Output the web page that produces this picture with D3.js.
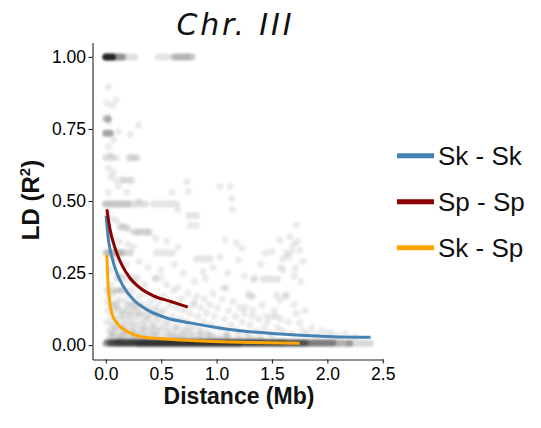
<!DOCTYPE html>
<html>
<head>
<meta charset="utf-8">
<script src="https://cdn.jsdelivr.net/npm/d3@7"></script>
<style>
  body { margin: 0; background: #fff; }
  svg { display: block; font-family: "Liberation Sans", Arial, sans-serif; }
</style>
</head>
<body>
<svg id="chart" width="541" height="428"></svg>
<script>
// ── Data ────────────────────────────────────────────────────────
const xTicks = [0, 0.5, 1.0, 1.5, 2.0, 2.5];
const yTicks = [0, 0.25, 0.5, 0.75, 1.0];
const seriesNames = ['Sk - Sk', 'Sp - Sp', 'Sk - Sp'];

// fitted decay curves: distance (Mb) / LD (R^2)
const skskDist = [0.003, 0.024, 0.054, 0.1, 0.159, 0.25, 0.37, 0.55, 0.76, 0.97, 1.21, 1.45, 1.75, 2.05, 2.39];
const skskLD   = [0.449, 0.365, 0.307, 0.25, 0.203, 0.157, 0.123, 0.094, 0.077, 0.063, 0.05, 0.042, 0.034, 0.029, 0.027];
const spspDist = [0.01, 0.039, 0.084, 0.144, 0.22, 0.31, 0.43, 0.58, 0.74];
const spspLD   = [0.471, 0.40, 0.336, 0.279, 0.232, 0.198, 0.171, 0.152, 0.132];
const skspDist = [0.009, 0.018, 0.033, 0.054, 0.1, 0.19, 0.31, 0.61, 0.91, 1.3, 1.75];
const skspLD   = [0.313, 0.227, 0.157, 0.111, 0.077, 0.048, 0.03, 0.019, 0.013, 0.009, 0.006];

// overplotted runs of pairs: [LD, distance from, distance to, density]
const pairRuns = [
  [0.006, 0.0, 2.20, 0.30], [0.006, 2.2, 2.39, 0.15], [0.008, 0.02, 2.05, 0.30], [0.007, 0.05, 1.8, 0.35],
  [0.010, 0.1, 1.6, 0.20], [0.004, 0.3, 1.2, 0.20], [0.018, 0.02, 1.4, 0.10], [0.03, 0.05, 1.1, 0.07],
  [0.05, 0.04, 0.9, 0.05], [0.08, 0.05, 0.7, 0.04], [0.12, 0.05, 0.5, 0.04],
  [1.0, 0.0, 0.06, 0.75], [1.0, 0.0, 0.15, 0.35], [1.0, 0.0, 0.26, 0.12],
  [1.0, 0.47, 0.55, 0.10], [1.0, 0.61, 0.78, 0.20], [1.0, 0.64, 0.74, 0.12],
  [0.735, 0.0, 0.04, 0.35], [0.785, 0.0, 0.02, 0.20],
  [0.65, 0.0, 0.06, 0.12], [0.65, 0.21, 0.28, 0.10],
  [0.49, 0.0, 0.36, 0.12], [0.49, 0.0, 0.2, 0.12], [0.49, 0.43, 0.64, 0.10],
  [0.32, 0.0, 0.22, 0.15], [0.32, 0.02, 0.14, 0.15], [0.32, 0.46, 0.6, 0.10],
  [0.45, 0.75, 0.82, 0.10], [0.415, 0.76, 0.82, 0.08], [0.30, 0.82, 0.94, 0.10],
  [0.233, 0.1, 0.28, 0.10], [0.233, 0.45, 0.5, 0.08], [0.229, 1.42, 1.55, 0.10],
  [0.572, 0.09, 0.24, 0.08], [0.394, 0.26, 0.38, 0.10], [0.41, 0.13, 0.19, 0.08]
];

// single pairs: [distance, LD]
const ldPairs = [
  [0.024,0.896],[0.093,0.852],[0.063,0.832],[0.024,0.783],[0.024,0.775],[0.02,0.79],[0.114,0.74],[0.294,0.763],
  [0.219,0.731],[0.069,0.713],[0.024,0.69],[0.1,0.65],[0.228,0.65],[0.27,0.65],[0.024,0.613],[0.045,0.584],
  [0.159,0.573],[0.219,0.573],[0.731,0.567],[0.746,0.532],[1.03,0.55],[1.12,0.55],[1.137,0.509],[1.143,0.471],
  [0.114,0.55],[0.024,0.53],[0.19,0.53],[0.07,0.6],[0.04,0.66],[0.01,0.84],[0.3,0.5],[0.65,0.47],[0.6,0.53],
  [0.02,0.46],[0.06,0.44],[0.1,0.43],[0.14,0.41],[0.17,0.41],[0.21,0.40],[0.27,0.39],[0.31,0.39],[0.36,0.39],
  [0.4,0.39],[0.05,0.38],[0.12,0.36],[0.2,0.35],[0.25,0.34],[0.45,0.37],[0.55,0.36],[0.65,0.34],[0.08,0.3],
  [0.18,0.28],[0.3,0.29],[0.38,0.27],[0.5,0.26],[0.62,0.28],[0.7,0.25],[0.04,0.26],[0.12,0.24],[0.25,0.22],
  [0.35,0.21],[0.45,0.23],[0.55,0.21],[0.65,0.2],[0.8,0.22],[0.88,0.255],[0.9,0.232],[1.077,0.365],[1.18,0.354],
  [1.227,0.336],[1.03,0.307],[1.197,0.296],[1.33,0.227],[0.97,0.27],[1.1,0.25],[1.25,0.24],
  [1.72,0.417],[1.66,0.376],[1.69,0.348],[1.57,0.365],[1.68,0.325],[1.75,0.33],[1.78,0.29],[1.71,0.267],
  [1.6,0.261],[1.65,0.307],[1.6,0.30],[1.44,0.319],[1.5,0.325],[1.73,0.36],[1.7,0.24],[1.76,0.22],[1.58,0.27],
  [1.63,0.32],[1.35,0.233],[1.4,0.28],
  [0.01,0.19],[0.01,0.15],[0.02,0.12],[0.01,0.08],[0.03,0.05],[0.03,0.17],[0.04,0.21],[0.05,0.14],[0.05,0.1],
  [0.06,0.07],[0.07,0.18],[0.07,0.04],[0.08,0.12],[0.09,0.15],[0.09,0.09],[0.1,0.06],[0.11,0.19],[0.11,0.13],
  [0.12,0.03],[0.13,0.1],[0.13,0.16],[0.14,0.07],[0.15,0.19],[0.15,0.12],[0.16,0.05],[0.17,0.15],[0.17,0.09],
  [0.18,0.19],[0.19,0.12],[0.19,0.04],[0.2,0.07],[0.21,0.17],[0.21,0.1],[0.22,0.14],[0.23,0.05],[0.24,0.19],
  [0.24,0.08],[0.25,0.12],[0.26,0.15],[0.27,0.04],[0.27,0.1],[0.28,0.13],[0.29,0.07],[0.3,0.17],[0.31,0.11],
  [0.32,0.05],[0.33,0.14],[0.34,0.08],[0.35,0.1],[0.36,0.18],[0.37,0.06],[0.38,0.13],[0.39,0.09],[0.4,0.15],
  [0.41,0.04],[0.42,0.11],[0.43,0.07],[0.44,0.17],[0.45,0.13],[0.46,0.05],[0.47,0.09],[0.48,0.15],[0.49,0.11],
  [0.5,0.06],[0.02,0.19],[0.06,0.19],[0.1,0.19],[0.14,0.19],[0.05,0.14],[0.1,0.14],[0.2,0.14],[0.25,0.14],
  [0.3,0.14],[0.15,0.105],[0.22,0.105],[0.3,0.105],[0.38,0.105],[0.45,0.105],[0.08,0.06],[0.16,0.06],[0.25,0.06],
  [0.34,0.06],[0.42,0.06],[0.05,0.035],[0.15,0.035],[0.25,0.035],[0.35,0.035],[0.45,0.035],
  [0.52,0.17],[0.53,0.12],[0.55,0.08],[0.56,0.04],[0.58,0.14],[0.6,0.1],[0.61,0.19],[0.62,0.06],[0.64,0.13],
  [0.65,0.03],[0.67,0.09],[0.68,0.16],[0.7,0.12],[0.71,0.05],[0.73,0.08],[0.74,0.18],[0.76,0.11],[0.77,0.04],
  [0.79,0.14],[0.8,0.07],[0.82,0.17],[0.83,0.1],[0.85,0.05],[0.86,0.13],[0.88,0.08],[0.89,0.16],[0.91,0.11],
  [0.92,0.04],[0.94,0.14],[0.95,0.07],[0.97,0.18],[0.98,0.1],[0.55,0.06],[0.65,0.06],[0.75,0.06],[0.85,0.035],
  [0.95,0.035],[0.6,0.035],[0.7,0.035],[0.8,0.15],
  [1.01,0.13],[1.03,0.06],[1.05,0.16],[1.07,0.09],[1.09,0.04],[1.11,0.12],[1.13,0.07],[1.15,0.15],[1.17,0.1],
  [1.19,0.05],[1.21,0.13],[1.23,0.08],[1.25,0.11],[1.27,0.04],[1.3,0.07],[1.33,0.12],[1.36,0.05],[1.38,0.09],
  [1.41,0.14],[1.43,0.06],[1.46,0.08],[1.48,0.04],[1.52,0.12],[1.55,0.06],[1.58,0.09],[1.1,0.035],[1.2,0.035],
  [1.3,0.035],[1.4,0.035],[1.5,0.035],[1.06,0.198],[1.09,0.198],[1.3,0.169],[1.33,0.169],[1.57,0.157],
  [1.62,0.169],[1.26,0.13],[1.45,0.1],[1.5,0.1],[1.54,0.1],[1.32,0.1],[1.29,0.18],[1.54,0.175],[1.63,0.175],
  [1.6,0.05],[1.65,0.08],[1.68,0.04],[1.72,0.11],[1.75,0.077],[1.78,0.05],[1.82,0.04],[1.86,0.06],[1.9,0.035],
  [1.95,0.05],[2.0,0.042],[2.04,0.042],[2.1,0.03],[2.16,0.04],[2.25,0.03],[1.7,0.14],[1.8,0.12]
];

const COLORS = { 'Sk - Sk': '#4682B4', 'Sp - Sp': '#8B0000', 'Sk - Sp': '#FFA500' };

// ── Chart ────────────────────────────────────────────────────────
const svg = d3.select('#chart');

// soft edges, like heavily overplotted transparent points
svg.append('defs').append('filter')
  .attr('id', 'soft')
  .attr('x', '-5%').attr('y', '-5%').attr('width', '110%').attr('height', '110%')
  .append('feGaussianBlur').attr('stdDeviation', 0.9);

const x = d3.scaleLinear().domain([-0.12, 2.505]).range([92.5, 383.3]);
const y = d3.scaleLinear().domain([-0.05, 1.05]).range([359.5, 42.5]);

// pairs
const cloud = svg.append('g').attr('filter', 'url(#soft)');
cloud.selectAll('line')
  .data(pairRuns)
  .join('line')
  .attr('x1', d => x(d[1]))
  .attr('x2', d => x(d[2]))
  .attr('y1', d => y(d[0]))
  .attr('y2', d => y(d[0]))
  .attr('stroke', '#000')
  .attr('stroke-width', 7)
  .attr('stroke-linecap', 'round')
  .attr('stroke-opacity', d => d[3]);

cloud.selectAll('circle')
  .data(ldPairs)
  .join('circle')
  .attr('cx', d => x(d[0]))
  .attr('cy', d => y(d[1]))
  .attr('r', 3.6)
  .attr('fill', '#000')
  .attr('fill-opacity', 0.08);

// curves
const curves = [
  { name: 'Sk - Sk', dist: skskDist, ld: skskLD },
  { name: 'Sp - Sp', dist: spspDist, ld: spspLD },
  { name: 'Sk - Sp', dist: skspDist, ld: skspLD }
];
const line = d3.line()
  .x(d => x(d[0]))
  .y(d => y(d[1]))
  .curve(d3.curveMonotoneX);

svg.append('g').selectAll('path')
  .data(curves)
  .join('path')
  .attr('d', c => line(c.dist.map((v, i) => [v, c.ld[i]])))
  .attr('fill', 'none')
  .attr('stroke', c => COLORS[c.name])
  .attr('stroke-width', 3);

// axes
const xAxis = svg.append('g')
  .attr('transform', `translate(0,${y.range()[0]})`)
  .call(d3.axisBottom(x).tickValues(xTicks).tickFormat(d3.format('.1f')).tickSize(4).tickSizeOuter(0).tickPadding(4));
const yAxis = svg.append('g')
  .attr('transform', `translate(${x.range()[0]},0)`)
  .call(d3.axisLeft(y).tickValues(yTicks).tickFormat(d3.format('.2f')).tickSize(4).tickSizeOuter(0).tickPadding(2.5));

[xAxis, yAxis].forEach(a => {
  a.attr('font-size', 17.5).attr('font-family', '"Liberation Sans", Arial, sans-serif');
  a.selectAll('.domain, .tick line').attr('stroke', '#222').attr('stroke-width', 1.1);
  a.selectAll('text').attr('fill', '#000');
});

// title & labels
svg.append('text')
  .attr('x', 234)
  .attr('y', 35)
  .attr('text-anchor', 'middle')
  .attr('font-family', '"DejaVu Sans", Verdana, sans-serif')
  .attr('font-style', 'italic')
  .attr('font-size', '30px')
  .attr('textLength', 115)
  .attr('lengthAdjust', 'spacing')
  .attr('fill', '#111')
  .text('Chr. III');

svg.append('text')
  .attr('x', 239)
  .attr('y', 404)
  .attr('text-anchor', 'middle')
  .attr('font-weight', 'bold')
  .attr('font-size', '23px')
  .attr('fill', '#111')
  .text('Distance (Mb)');

const yl = svg.append('text')
  .attr('transform', 'translate(39,200) rotate(-90)')
  .attr('text-anchor', 'middle')
  .attr('font-weight', 'bold')
  .attr('font-size', '24px')
  .attr('fill', '#111');
yl.append('tspan').text('LD (R');
yl.append('tspan').attr('font-size', '15px').attr('dy', -9).text('2');
yl.append('tspan').attr('dy', 9).text(')');

// legend
const legend = svg.append('g').selectAll('g')
  .data(seriesNames)
  .join('g')
  .attr('transform', (d, i) => `translate(397,${155.7 + i * 46})`);
legend.append('line')
  .attr('x1', 0).attr('x2', 37)
  .attr('stroke', d => COLORS[d])
  .attr('stroke-width', 5);
legend.append('text')
  .attr('x', 41)
  .attr('y', 9.5)
  .attr('font-size', '26px')
  .attr('fill', '#111')
  .text(d => d);
</script>
</body>
</html>
